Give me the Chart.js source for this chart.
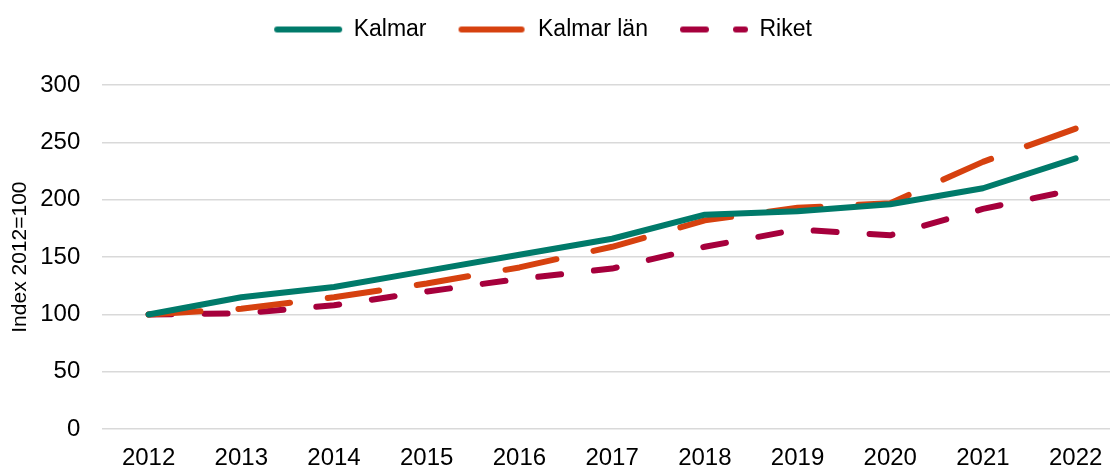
<!DOCTYPE html>
<html>
<head>
<meta charset="utf-8">
<script src="https://cdn.jsdelivr.net/npm/chart.js@4"></script>
<style>
  html, body { margin: 0; padding: 0; background: #fff; overflow: hidden; }
  #wrap { width: 1110px; height: 468px; overflow: hidden; }
</style>
</head>
<body>
<div id="wrap"><canvas id="chart" width="1122" height="468"></canvas></div>
<script>
const years = ['2012', '2013', '2014', '2015', '2016', '2017', '2018', '2019', '2020', '2021', '2022'];
const kalmar = [100, 115, 124, 138, 152, 166, 187, 190, 196, 210, 236];
const kalmarLan = [100, 105, 115, 127, 141, 159, 182, 193, 197, 233, 262];
const riket = [100, 101, 108, 120, 131, 140, 159, 174, 169, 192, 209];
const yTicks = [0, 50, 100, 150, 200, 250, 300];

const font = 'Liberation Sans, Arial, sans-serif';
const colors = ['#007A6A', '#D6410F', '#A6003C'];
const dashes = [[], [60, 38], [23, 30]];

// legend sample: a short line with the same dash as the series
function sample(color, dash) {
  const c = document.createElement('canvas');
  c.width = 70;
  c.height = 10;
  const ctx = c.getContext('2d');
  ctx.strokeStyle = color;
  ctx.lineWidth = 6;
  ctx.lineCap = 'round';
  ctx.setLineDash(dash);
  ctx.beginPath();
  ctx.moveTo(4, 5);
  ctx.lineTo(66, 5);
  ctx.stroke();
  return c;
}

// legend needs extra room below it, and sits a bit left of canvas center
const legendTweak = {
  id: 'legendTweak',
  beforeInit(chart) {
    const fit = chart.legend.fit;
    chart.legend.fit = function () {
      fit.call(chart.legend);
      this.height += 34;
    };
  },
  afterLayout(chart) {
    chart.legend.left -= 18;
    chart.legend.right -= 18;
  }
};

function series(label, data, i) {
  return {
    label: label,
    data: data,
    borderColor: colors[i],
    backgroundColor: colors[i],
    borderWidth: 6,
    borderDash: i === 1 ? [52, 38] : i === 2 ? [23, 33] : [],
    borderCapStyle: 'round',
    borderJoinStyle: 'round',
    pointRadius: 0,
    pointStyle: sample(colors[i], dashes[i]),
    tension: 0
  };
}

let config = {
  type: 'line',
  data: {
    labels: years,
    datasets: [
      series('Kalmar', kalmar, 0),
      series('Kalmar län', kalmarLan, 1),
      series('Riket', riket, 2)
    ]
  },
  options: {
    responsive: false,
    animation: false,
    devicePixelRatio: 1,
    layout: { padding: { top: -14, right: 0, bottom: -20, left: 0 } },
    plugins: {
      legend: {
        display: true,
        position: 'top',
        labels: {
          usePointStyle: true,
          boxWidth: 68,
          pointStyleWidth: 68,
          padding: 32,
          color: '#000',
          font: { family: font, size: 23 }
        }
      },
      tooltip: { enabled: false }
    },
    scales: {
      x: {
        offset: true,
        grid: { display: false, drawTicks: false },
        border: { display: false },
        ticks: {
          color: '#000',
          padding: 15,
          maxRotation: 0,
          autoSkip: false,
          font: { family: font, size: 24 }
        }
      },
      y: {
        min: 0,
        max: 300,
        afterBuildTicks: axis => { axis.ticks = yTicks.map(v => ({ value: v })); },
        grid: { color: '#d9d9d9', lineWidth: 1.5, drawTicks: false },
        border: { display: false },
        ticks: {
          color: '#000',
          padding: 22,
          font: { family: font, size: 24 }
        },
        title: {
          display: true,
          text: 'Index 2012=100',
          color: '#000',
          padding: { top: 8, bottom: -15 },
          font: { family: font, size: 21 }
        }
      }
    }
  },
  plugins: [legendTweak]
};

const chart = new Chart(document.getElementById('chart'), config);
</script>
</body>
</html>
